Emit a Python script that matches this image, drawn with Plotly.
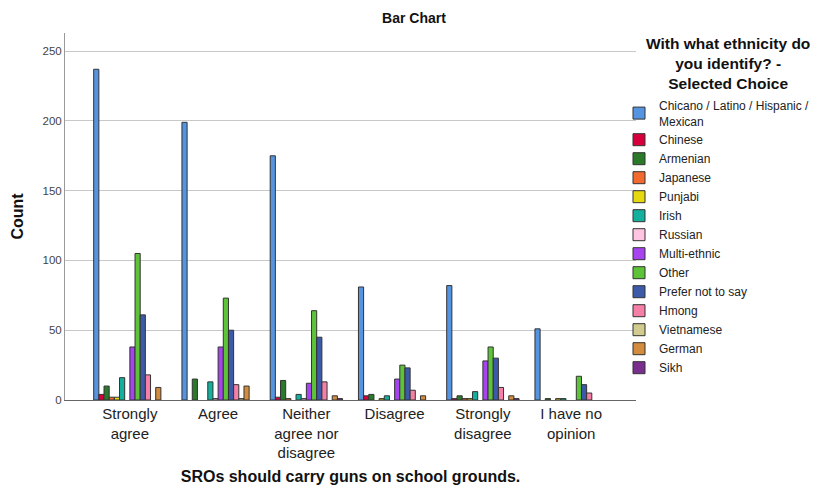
import plotly.graph_objects as go

# ---- data ----
categories = ["Strongly<br>agree", "Agree", "Neither<br>agree nor<br>disagree",
              "Disagree", "Strongly<br>disagree", "I have no<br>opinion"]

ethnicities = ["Chicano / Latino / Hispanic /<br>Mexican", "Chinese", "Armenian",
               "Japanese", "Punjabi", "Irish", "Russian", "Multi-ethnic", "Other",
               "Prefer not to say", "Hmong", "Vietnamese", "German", "Sikh"]

chicano = [237, 199, 175, 81, 82, 51]
chinese = [4, 0, 2, 3, 1, 0]
armenian = [10, 15, 14, 4, 3, 1]
japanese = [2, 0, 1, 0, 1, 0]
punjabi = [2, 0, 0, 1, 1, 1]
irish = [16, 13, 4, 3, 6, 1]
russian = [0, 1, 1, 0, 0, 0]
multi_ethnic = [38, 38, 12, 15, 28, 0]
other = [105, 73, 64, 25, 38, 17]
prefer_not = [61, 50, 45, 23, 30, 11]
hmong = [18, 11, 13, 7, 9, 5]
vietnamese = [0, 1, 0, 0, 0, 0]
german = [9, 10, 3, 3, 3, 0]
sikh = [0, 0, 1, 0, 1, 0]

series = [chicano, chinese, armenian, japanese, punjabi, irish, russian,
          multi_ethnic, other, prefer_not, hmong, vietnamese, german, sikh]

colors = ["#5594E0", "#D8003C", "#2A7A2A", "#F26A2E", "#E6D80F", "#13B09E",
          "#FFC4E2", "#A843F0", "#5DC43A", "#3C5AA8", "#F57FA7", "#D2CB8E",
          "#D38B3E", "#7A2F8E"]

yticks = [0, 50, 100, 150, 200, 250]

legend_title = "With what ethnicity do<br>you identify? -<br>Selected Choice"

# ---- layout geometry ----
W, H = 820, 488
L, R, T, B = 65, 184, 33, 88
PW = W - L - R
PH = H - T - B


def px_x(x):
    return (x - L) / PW


def px_y(y):
    return (H - B - y) / PH


FONT = "Liberation Sans, Arial, sans-serif"

fig = go.Figure()
for name, vals, col in zip(ethnicities, series, colors):
    fig.add_trace(go.Bar(
        x=list(range(len(categories))),
        y=[v if v else None for v in vals],
        name=name,
        marker=dict(color=col, line=dict(color="#333333", width=1)),
    ))

fig.update_layout(
    width=W, height=H,
    margin=dict(l=L, r=R, t=T, b=B, pad=0, autoexpand=False),
    paper_bgcolor="white", plot_bgcolor="white",
    barmode="group", bargap=0.18, bargroupgap=0,
    font=dict(family=FONT, color="#222222"),
    title=dict(text="<b>Bar Chart</b>", x=414 / W, xanchor="center",
               y=1 - 18 / H, yanchor="middle", font=dict(size=14, color="#111111")),
    xaxis=dict(
        tickmode="array", tickvals=list(range(len(categories))), ticktext=categories,
        range=[-0.735, 5.735], showgrid=False, showline=True, linecolor="#666666",
        linewidth=1, ticks="", tickfont=dict(size=15, color="#222222"),
        title=dict(text="<b>SROs should carry guns on school grounds.</b>",
                   font=dict(size=16, color="#111111"), standoff=10),
        automargin=False, zeroline=False,
    ),
    yaxis=dict(
        range=[0, 263], tickmode="array", tickvals=yticks,
        showgrid=True, gridcolor="#c8c8c8", gridwidth=1,
        showline=True, linecolor="#999999", linewidth=1, ticks="",
        tickfont=dict(size=11.5, color="#444444"), zeroline=False,
        title=dict(text="<b>Count</b>", font=dict(size=16, color="#111111"), standoff=14),
        automargin=False,
    ),
    legend=dict(
        x=px_x(619), xanchor="left", y=px_y(91), yanchor="top",
        bgcolor="rgba(0,0,0,0)", font=dict(size=12, color="#222222"),
        traceorder="normal", itemclick=False,
    ),
    showlegend=True,
)

fig.add_annotation(
    text=f"<b>{legend_title}</b>", xref="paper", yref="paper",
    x=px_x(728), y=px_y(63), xanchor="center", yanchor="middle", align="center",
    showarrow=False, font=dict(size=15.5, color="#111111", family=FONT),
)

fig.write_html(
    "out.html",
    config={"displayModeBar": False},
    post_script="document.body.style.margin='0';document.body.style.overflow='hidden';",
)
